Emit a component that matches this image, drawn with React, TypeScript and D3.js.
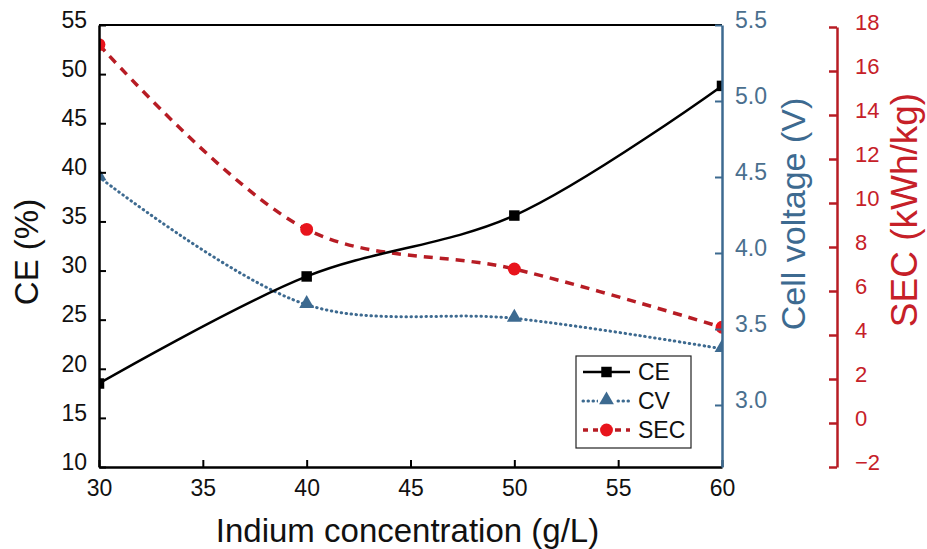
import React, { useRef, useEffect } from "react";
import * as d3 from "d3";

// indium concentration (g/L)
const concentrations = [30, 40, 50, 60];
// current efficiency (%)
const ceValues = [18.5, 29.4, 35.6, 48.8];
// cell voltage (V)
const cvValues = [4.5, 3.66, 3.57, 3.37];
// specific energy consumption (kWh/kg)
const secValues = [17.2, 8.8, 7.0, 4.35];

const xTicks = [30, 35, 40, 45, 50, 55, 60];
const ceTicks = [10, 15, 20, 25, 30, 35, 40, 45, 50, 55];
const cvTicks = [3.0, 3.5, 4.0, 4.5, 5.0, 5.5];
const secTicks = [-2, 0, 2, 4, 6, 8, 10, 12, 14, 16, 18];

const legendItems = ["CE", "CV", "SEC"];

const App = () => {
  const container = useRef(null);

  const width = 927;
  const height = 549;
  const left = 99;
  const right = 722;
  const top = 25;
  const bottom = 467;
  const secAxisX = 837;
  const font = "Arial, 'Liberation Sans', sans-serif";
  const blue = "#3d6a90";
  const blueLabel = "#4a6f8e";
  const red = "#b71c24";
  const redMark = "#e8141c";

  useEffect(() => {
    const svg = d3.select(container.current);
    svg.selectAll("*").remove();

    const xScale = d3.scaleLinear().domain([30, 60]).range([left, right]);
    const ceScale = d3.scaleLinear().domain([10, 55]).range([bottom, top]);
    const cvScale = d3.scaleLinear().domain([2.592, 5.5]).range([bottom, top]);
    const secScale = d3.scaleLinear().domain([-2, 18]).range([bottom, 27]);

    svg
      .append("defs")
      .append("clipPath")
      .attr("id", "plot-clip")
      .append("rect")
      .attr("x", left)
      .attr("y", top)
      .attr("width", right - left)
      .attr("height", bottom - top);

    const curve = d3.curveCatmullRom.alpha(0.5);

    const plot = svg.append("g").attr("clip-path", "url(#plot-clip)");

    // SEC line (dashed red)
    const secLine = d3
      .line()
      .x((d, i) => xScale(concentrations[i]))
      .y((d) => secScale(d))
      .curve(curve);
    plot
      .append("path")
      .datum(secValues)
      .attr("d", secLine)
      .attr("fill", "none")
      .attr("stroke", red)
      .attr("stroke-width", 3.5)
      .attr("stroke-dasharray", "9,7");

    // CV line (dotted blue)
    const cvLine = d3
      .line()
      .x((d, i) => xScale(concentrations[i]))
      .y((d) => cvScale(d))
      .curve(curve);
    plot
      .append("path")
      .datum(cvValues)
      .attr("d", cvLine)
      .attr("fill", "none")
      .attr("stroke", blue)
      .attr("stroke-width", 3)
      .attr("stroke-linecap", "round")
      .attr("stroke-dasharray", "0.5,4.5");

    // CE line (solid black)
    const ceLine = d3
      .line()
      .x((d, i) => xScale(concentrations[i]))
      .y((d) => ceScale(d))
      .curve(curve);
    plot
      .append("path")
      .datum(ceValues)
      .attr("d", ceLine)
      .attr("fill", "none")
      .attr("stroke", "#000")
      .attr("stroke-width", 2.5);

    // markers
    const square = d3.symbol().type(d3.symbolSquare).size(110);
    const triangle = d3.symbol().type(d3.symbolTriangle).size(95);
    const circle = d3.symbol().type(d3.symbolCircle).size(130);

    plot
      .selectAll(".ce-mark")
      .data(ceValues)
      .enter()
      .append("path")
      .attr("d", square)
      .attr("transform", (d, i) => `translate(${xScale(concentrations[i])},${ceScale(d)})`)
      .attr("fill", "#000");

    plot
      .selectAll(".cv-mark")
      .data(cvValues)
      .enter()
      .append("path")
      .attr("d", triangle)
      .attr("transform", (d, i) => `translate(${xScale(concentrations[i])},${cvScale(d) - 1})`)
      .attr("fill", blue);

    plot
      .selectAll(".sec-mark")
      .data(secValues)
      .enter()
      .append("path")
      .attr("d", circle)
      .attr("transform", (d, i) => `translate(${xScale(concentrations[i])},${secScale(d)})`)
      .attr("fill", redMark);

    // top frame line
    svg
      .append("line")
      .attr("x1", left)
      .attr("x2", right)
      .attr("y1", top)
      .attr("y2", top)
      .attr("stroke", "#000")
      .attr("stroke-width", 2);

    // x axis
    const xAxis = d3
      .axisBottom(xScale)
      .tickValues(xTicks)
      .tickSizeInner(-7)
      .tickSizeOuter(0)
      .tickPadding(13)
      .tickFormat(d3.format("d"));
    const gx = svg
      .append("g")
      .attr("transform", `translate(0,${bottom})`)
      .call(xAxis);
    gx.select(".domain").attr("stroke", "#000").attr("stroke-width", 2.5);
    gx.selectAll(".tick line").attr("stroke", "#000").attr("stroke-width", 2);
    gx.selectAll("text")
      .attr("fill", "#111")
      .style("font-size", "23px")
      .style("font-family", font);

    // left axis (CE)
    const ceAxis = d3
      .axisLeft(ceScale)
      .tickValues(ceTicks)
      .tickSizeInner(-7)
      .tickSizeOuter(0)
      .tickPadding(12)
      .tickFormat(d3.format("d"));
    const gl = svg.append("g").attr("transform", `translate(${left},0)`).call(ceAxis);
    gl.select(".domain").attr("stroke", "#000").attr("stroke-width", 2.5);
    gl.selectAll(".tick line").attr("stroke", "#000").attr("stroke-width", 2);
    gl.selectAll("text")
      .attr("fill", "#111")
      .attr("dy", "0.1em")
      .style("font-size", "23px")
      .style("font-family", font);

    // right axis (cell voltage)
    const cvAxis = d3
      .axisRight(cvScale)
      .tickValues(cvTicks)
      .tickSizeInner(-7)
      .tickSizeOuter(0)
      .tickPadding(13)
      .tickFormat(d3.format(".1f"));
    const gr = svg.append("g").attr("transform", `translate(${right},0)`).call(cvAxis);
    gr.select(".domain").attr("stroke", blue).attr("stroke-width", 2.5);
    gr.selectAll(".tick line").attr("stroke", blue).attr("stroke-width", 2);
    gr.selectAll("text")
      .attr("fill", blueLabel)
      .attr("dy", "0.1em")
      .style("font-size", "23px")
      .style("font-family", font);

    // far right axis (SEC)
    const secAxis = d3
      .axisRight(secScale)
      .tickValues(secTicks)
      .tickSizeInner(-8)
      .tickSizeOuter(0)
      .tickPadding(18)
      .tickFormat(d3.format("d"));
    const gs = svg.append("g").attr("transform", `translate(${secAxisX},0)`).call(secAxis);
    gs.select(".domain").attr("stroke", red).attr("stroke-width", 2.5);
    gs.selectAll(".tick line").attr("stroke", red).attr("stroke-width", 2.5);
    gs.selectAll("text")
      .attr("fill", "#c62028")
      .attr("dy", "0.1em")
      .style("font-size", "22px")
      .style("font-family", font);

    // axis titles
    svg
      .append("text")
      .attr("x", (left + right) / 2 - 3)
      .attr("y", 542)
      .attr("text-anchor", "middle")
      .attr("fill", "#111")
      .style("font-size", "33px")
      .style("font-family", font)
      .text("Indium concentration (g/L)");

    svg
      .append("text")
      .attr("transform", `translate(38,${(top + bottom) / 2 + 6}) rotate(-90)`)
      .attr("text-anchor", "middle")
      .attr("fill", "#111")
      .style("font-size", "33px")
      .style("font-family", font)
      .text("CE (%)");

    svg
      .append("text")
      .attr("transform", `translate(805,214) rotate(-90)`)
      .attr("text-anchor", "middle")
      .attr("fill", blue)
      .style("font-size", "34px")
      .style("font-family", font)
      .text("Cell voltage (V)");

    svg
      .append("text")
      .attr("transform", `translate(917,210) rotate(-90)`)
      .attr("text-anchor", "middle")
      .attr("fill", "#c62028")
      .style("font-size", "37px")
      .style("font-family", font)
      .text("SEC (kWh/kg)");

    // legend
    const legend = svg.append("g").attr("transform", "translate(576,356)");
    legend
      .append("rect")
      .attr("width", 115)
      .attr("height", 92)
      .attr("fill", "#fff")
      .attr("stroke", "#222")
      .attr("stroke-width", 1.2);

    const styles = [
      { stroke: "#000", width: 2.5, cap: "butt", mark: square, fill: "#000" },
      { stroke: blue, width: 3, cap: "round", mark: triangle, fill: blue },
      { stroke: red, width: 3.5, cap: "butt", mark: circle, fill: redMark },
    ];

    const rows = legend
      .selectAll(".row")
      .data(legendItems)
      .enter()
      .append("g")
      .attr("transform", (d, i) => `translate(0,${16 + i * 29})`);

    rows
      .append("line")
      .attr("x1", 7)
      .attr("x2", 54)
      .attr("stroke", (d, i) => styles[i].stroke)
      .attr("stroke-width", (d, i) => styles[i].width)
      .attr("stroke-linecap", (d, i) => styles[i].cap)
      .attr("stroke-dasharray", (d, i) => (i === 1 ? "0.5,4.5" : i === 2 ? "6,5" : null))
      .attr("stroke-dashoffset", (d, i) => (i === 2 ? 1 : 0));

    rows
      .append("rect")
      .attr("x", 22)
      .attr("y", -8)
      .attr("width", 17)
      .attr("height", 16)
      .attr("fill", (d, i) => (i === 0 ? "none" : "#fff"));

    rows
      .append("path")
      .attr("d", (d, i) => styles[i].mark())
      .attr("transform", (d, i) => `translate(30.5,${i === 1 ? -1 : 0})`)
      .attr("fill", (d, i) => styles[i].fill);

    rows
      .append("text")
      .attr("x", 62)
      .attr("dy", "0.36em")
      .attr("fill", "#111")
      .style("font-size", "23px")
      .style("font-family", font)
      .text((d) => d);
  }, []);

  return (
    <svg
      ref={container}
      width={width}
      height={height}
      style={{ position: "absolute", left: 0, top: 0, background: "#fff" }}
    />
  );
};

export default App;
